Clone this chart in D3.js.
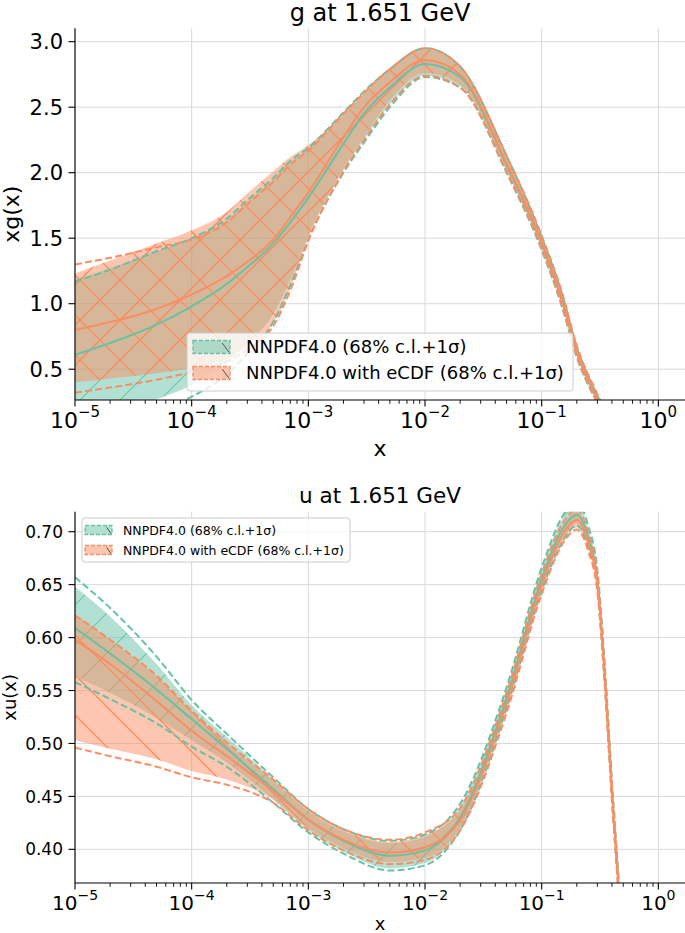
<!DOCTYPE html>
<html>
<head>
<meta charset="utf-8">
<script src="https://cdn.jsdelivr.net/npm/d3@7"></script>
<style>
  body { margin: 0; background: #fff; }
  text { font-family: "DejaVu Sans", sans-serif; fill: #000; }
</style>
</head>
<body>
<svg id="chart" width="685" height="933"></svg>
<script>
// ---- data: g at 1.651 GeV ----
var gX = [1e-5, 2e-5, 5e-5, 1e-4, 2e-4, 3e-4, 5e-4, 7e-4, 1e-3, 2e-3, 3e-3, 5e-3, 1e-2, 2e-2, 5e-2, 0.1, 0.15, 0.2, 0.3, 0.4];
var gNnpdfCentral = [0.61, 0.70, 0.84, 0.98, 1.15, 1.28, 1.46, 1.62, 1.81, 2.22, 2.45, 2.65, 2.83, 2.73, 2.06, 1.46, 1.02, 0.63, 0.27, 0.05];
var gNnpdfLo68    = [0.02, 0.12, 0.27, 0.38, 0.55, 0.70, 0.92, 1.18, 1.52, 2.02, 2.25, 2.52, 2.74, 2.66, 2.01, 1.42, 0.98, 0.60, 0.25, 0.03];
var gNnpdfHi68    = [1.18, 1.27, 1.40, 1.50, 1.64, 1.78, 1.95, 2.08, 2.18, 2.44, 2.60, 2.78, 2.94, 2.80, 2.12, 1.50, 1.06, 0.66, 0.29, 0.07];
var gNnpdfLoSig   = [-0.1, 0.02, 0.17, 0.29, 0.46, 0.62, 0.86, 1.14, 1.49, 2.00, 2.23, 2.50, 2.73, 2.65, 2.00, 1.41, 0.97, 0.59, 0.24, 0.02];
var gNnpdfHiSig   = [1.17, 1.26, 1.40, 1.50, 1.65, 1.79, 1.96, 2.09, 2.19, 2.46, 2.62, 2.79, 2.95, 2.81, 2.13, 1.51, 1.07, 0.67, 0.30, 0.08];
var gEcdfCentral  = [0.80, 0.86, 0.96, 1.07, 1.21, 1.32, 1.49, 1.66, 1.85, 2.27, 2.50, 2.69, 2.86, 2.75, 2.07, 1.47, 1.03, 0.64, 0.28, 0.05];
var gEcdfLo68     = [0.40, 0.43, 0.47, 0.51, 0.58, 0.68, 0.85, 1.12, 1.50, 2.03, 2.27, 2.55, 2.76, 2.67, 2.02, 1.43, 0.99, 0.61, 0.25, 0.03];
var gEcdfHi68     = [1.23, 1.33, 1.46, 1.56, 1.70, 1.84, 2.01, 2.12, 2.21, 2.46, 2.62, 2.80, 2.95, 2.81, 2.12, 1.51, 1.07, 0.67, 0.30, 0.07];
var gEcdfLoSig    = [0.32, 0.36, 0.42, 0.48, 0.56, 0.65, 0.83, 1.10, 1.48, 2.01, 2.25, 2.52, 2.74, 2.65, 2.01, 1.42, 0.98, 0.60, 0.24, 0.02];
var gEcdfHiSig    = [1.30, 1.35, 1.43, 1.49, 1.62, 1.76, 1.93, 2.06, 2.17, 2.45, 2.61, 2.79, 2.95, 2.81, 2.13, 1.52, 1.08, 0.68, 0.31, 0.08];

// ---- data: u at 1.651 GeV ----
var uX = [1e-5, 2e-5, 5e-5, 1e-4, 2e-4, 5e-4, 1e-3, 2e-3, 5e-3, 1e-2, 2e-2, 5e-2, 0.1, 0.15, 0.2, 0.25, 0.3, 0.35, 0.4, 0.45, 0.5];
var uNnpdfCentral = [0.609, 0.585, 0.551, 0.523, 0.495, 0.457, 0.428, 0.408, 0.394, 0.399, 0.430, 0.543, 0.655, 0.702, 0.716, 0.695, 0.655, 0.560, 0.456, 0.375, 0.300];
var uNnpdfLo68    = [0.563, 0.548, 0.524, 0.503, 0.482, 0.447, 0.418, 0.398, 0.382, 0.387, 0.420, 0.535, 0.646, 0.692, 0.708, 0.687, 0.648, 0.553, 0.450, 0.370, 0.296];
var uNnpdfHi68    = [0.648, 0.620, 0.575, 0.536, 0.506, 0.466, 0.436, 0.417, 0.406, 0.412, 0.441, 0.551, 0.664, 0.712, 0.726, 0.704, 0.662, 0.567, 0.462, 0.380, 0.304];
var uNnpdfLoSig   = [0.558, 0.542, 0.519, 0.497, 0.478, 0.444, 0.416, 0.396, 0.380, 0.385, 0.418, 0.533, 0.644, 0.690, 0.706, 0.685, 0.646, 0.551, 0.448, 0.368, 0.294];
var uNnpdfHiSig   = [0.657, 0.628, 0.582, 0.541, 0.509, 0.468, 0.438, 0.419, 0.408, 0.414, 0.443, 0.553, 0.666, 0.714, 0.728, 0.706, 0.664, 0.569, 0.464, 0.382, 0.306];
var uEcdfCentral  = [0.598, 0.575, 0.540, 0.512, 0.488, 0.455, 0.428, 0.409, 0.397, 0.402, 0.428, 0.538, 0.650, 0.697, 0.711, 0.690, 0.651, 0.557, 0.454, 0.374, 0.300];
var uEcdfLo68     = [0.503, 0.495, 0.485, 0.474, 0.466, 0.447, 0.420, 0.401, 0.388, 0.392, 0.420, 0.531, 0.643, 0.690, 0.704, 0.684, 0.645, 0.551, 0.449, 0.369, 0.296];
var uEcdfHi68     = [0.622, 0.598, 0.563, 0.530, 0.500, 0.465, 0.437, 0.418, 0.407, 0.414, 0.437, 0.546, 0.658, 0.705, 0.719, 0.697, 0.657, 0.563, 0.459, 0.378, 0.304];
var uEcdfLoSig    = [0.496, 0.488, 0.478, 0.468, 0.461, 0.444, 0.418, 0.399, 0.386, 0.390, 0.418, 0.529, 0.641, 0.688, 0.702, 0.682, 0.643, 0.549, 0.447, 0.367, 0.294];
var uEcdfHiSig    = [0.621, 0.598, 0.564, 0.531, 0.501, 0.466, 0.438, 0.419, 0.409, 0.416, 0.439, 0.548, 0.660, 0.707, 0.721, 0.699, 0.659, 0.565, 0.461, 0.380, 0.306];

// ---- ticks / labels ----
var xMajor = [1e-5, 1e-4, 1e-3, 1e-2, 1e-1, 1];
var xExp = ["\u22125", "\u22124", "\u22123", "\u22122", "\u22121", "0"];
var gTicks = [0.5, 1.0, 1.5, 2.0, 2.5, 3.0];
var uTicks = [0.40, 0.45, 0.50, 0.55, 0.60, 0.65, 0.70];
var legendLabels = ["NNPDF4.0 (68% c.l.+1\u03c3)", "NNPDF4.0 with eCDF (68% c.l.+1\u03c3)"];

var green = "#66c2a5", orange = "#fc8d62";
var svg = d3.select("#chart");
var defs = svg.append("defs");

// hatch patterns
var fwd = "M-10,10L10,-10M0,40L40,0M30,50L50,30";
var back = "M0,0L40,40M-10,30L10,50M30,-10L50,10";
function hatch(id, color, d, w, op) {
  defs.append("pattern")
      .attr("id", id)
      .attr("patternUnits", "userSpaceOnUse")
      .attr("width", 40).attr("height", 40)
    .append("path")
      .attr("d", d)
      .attr("fill", "none")
      .attr("stroke", color)
      .attr("stroke-width", w)
      .attr("stroke-opacity", op);
}
hatch("hg", green, fwd, 1.1, 0.9);
hatch("hox", orange, fwd + back, 1.4, 1);
hatch("hob", orange, back, 1.4, 1);

var minorTicks = [];
[-5, -4, -3, -2, -1, 0].forEach(function(e) {
  for (var k = 2; k <= 9; k++) {
    var v = k * Math.pow(10, e);
    if (v < 1.69) minorTicks.push(v);
  }
});

function panel(o) {
  var x = d3.scaleLog().domain([1e-5, 1.692]).range([75, 685]);
  var y = d3.scaleLinear().domain(o.yDomain).range([o.bottom, o.top]);
  var g = svg.append("g");
  var clipId = "clip" + o.id;
  defs.append("clipPath").attr("id", clipId)
    .append("rect").attr("x", 75).attr("y", o.top)
    .attr("width", 610).attr("height", o.bottom - o.top);

  // grid
  g.selectAll(".vgrid").data(xMajor).enter().append("line")
    .attr("x1", function(d) { return x(d); }).attr("x2", function(d) { return x(d); })
    .attr("y1", o.top).attr("y2", o.bottom)
    .attr("stroke", "#d9d9d9").attr("stroke-width", 1);
  g.selectAll(".hgrid").data(o.yTicks).enter().append("line")
    .attr("x1", 75).attr("x2", 685)
    .attr("y1", function(d) { return y(d); }).attr("y2", function(d) { return y(d); })
    .attr("stroke", "#d9d9d9").attr("stroke-width", 1);

  var plot = g.append("g").attr("clip-path", "url(#" + clipId + ")");
  var line = d3.line().curve(d3.curveMonotoneX);
  var area = d3.area().curve(d3.curveMonotoneX);

  o.series.forEach(function(s) {
    var bandPts = o.xs.map(function(v, i) { return [x(v), y(s.lo[i]), y(s.hi[i])]; });
    var ar = area.x(function(d) { return d[0]; }).y0(function(d) { return d[1]; }).y1(function(d) { return d[2]; });
    plot.append("path").attr("d", ar(bandPts))
      .attr("fill", s.color).attr("fill-opacity", 0.5);
    plot.append("path").attr("d", ar(bandPts))
      .attr("fill", "url(#" + s.hatch + ")");
  });
  o.series.forEach(function(s) {
    [s.slo, s.shi].forEach(function(arr) {
      plot.append("path")
        .attr("d", line(o.xs.map(function(v, i) { return [x(v), y(arr[i])]; })))
        .attr("fill", "none").attr("stroke", s.color)
        .attr("stroke-width", 2).attr("stroke-dasharray", "7,3.2");
    });
    plot.append("path")
      .attr("d", line(o.xs.map(function(v, i) { return [x(v), y(s.c[i])]; })))
      .attr("fill", "none").attr("stroke", s.color).attr("stroke-width", 2);
  });

  // spines
  g.append("line").attr("x1", 75).attr("x2", 75).attr("y1", o.top).attr("y2", o.bottom)
    .attr("stroke", "#000").attr("stroke-width", 1.1);
  g.append("line").attr("x1", 75).attr("x2", 685).attr("y1", o.bottom).attr("y2", o.bottom)
    .attr("stroke", "#000").attr("stroke-width", 1.1);

  // x ticks
  g.selectAll(".xmaj").data(xMajor).enter().append("line")
    .attr("x1", function(d) { return x(d); }).attr("x2", function(d) { return x(d); })
    .attr("y1", o.bottom).attr("y2", o.bottom + 6.5)
    .attr("stroke", "#000").attr("stroke-width", 1.1);
  g.selectAll(".xmin").data(minorTicks).enter().append("line")
    .attr("x1", function(d) { return x(d); }).attr("x2", function(d) { return x(d); })
    .attr("y1", o.bottom).attr("y2", o.bottom + 3.8)
    .attr("stroke", "#000").attr("stroke-width", 0.9);
  xMajor.forEach(function(d, i) {
    var t = g.append("text")
      .attr("x", x(d)).attr("y", o.bottom + o.xLabBase)
      .attr("text-anchor", "middle")
      .style("font-size", o.xFont + "px");
    t.append("tspan").text("10");
    t.append("tspan").attr("dy", -o.supRise).style("font-size", o.supFont + "px").text(xExp[i]);
  });

  // y ticks
  g.selectAll(".ymaj").data(o.yTicks).enter().append("line")
    .attr("x1", 75 - 6.5).attr("x2", 75)
    .attr("y1", function(d) { return y(d); }).attr("y2", function(d) { return y(d); })
    .attr("stroke", "#000").attr("stroke-width", 1.1);
  g.selectAll(".ylab").data(o.yTicks).enter().append("text")
    .attr("x", 63).attr("y", function(d) { return y(d); })
    .attr("dy", "0.36em").attr("text-anchor", "end")
    .style("font-size", o.yFont + "px")
    .text(function(d) { return d3.format(o.yFmt)(d); });

  // titles
  g.append("text").attr("x", 380).attr("y", o.titleY)
    .attr("text-anchor", "middle").style("font-size", o.titleFont + "px").text(o.title);
  g.append("text").attr("x", 380).attr("y", o.xTitleY)
    .attr("text-anchor", "middle").style("font-size", o.labFont + "px").text("x");
  g.append("text")
    .attr("transform", "translate(" + o.yTitleX + "," + ((o.top + o.bottom) / 2) + ") rotate(-90)")
    .attr("text-anchor", "middle").style("font-size", o.labFont + "px").text(o.ylabel);

  // legend
  var L = o.legend;
  var lg = g.append("g");
  lg.append("rect").attr("x", L.x).attr("y", L.y).attr("width", L.w).attr("height", L.h)
    .attr("rx", 3).attr("fill", "#fff").attr("fill-opacity", 0.8)
    .attr("stroke", "#cccccc").attr("stroke-width", 1);
  o.series.forEach(function(s, i) {
    var cy = L.rows[i];
    lg.append("rect").attr("x", L.px).attr("y", cy - L.ph / 2).attr("width", L.pw).attr("height", L.ph)
      .attr("fill", s.color).attr("fill-opacity", 0.5)
      .attr("stroke", s.color).attr("stroke-width", 1.4).attr("stroke-dasharray", "4,2");
    lg.append("line")
      .attr("x1", L.px + L.pw - L.ph * 0.6).attr("y1", cy - L.ph * 0.3)
      .attr("x2", L.px + L.pw - 1).attr("y2", cy + L.ph * 0.4)
      .attr("stroke", "#555").attr("stroke-width", 1);
    lg.append("text").attr("x", L.tx).attr("y", cy).attr("dy", "0.36em")
      .style("font-size", L.font + "px").text(legendLabels[i]);
  });
}

panel({
  id: "g", top: 28.3, bottom: 400, yDomain: [0.265, 3.102], yTicks: gTicks, yFmt: ".1f",
  xs: gX, title: "g at 1.651 GeV", titleY: 21, titleFont: 24, ylabel: "xg(x)",
  xFont: 22, supFont: 15, supRise: 11, xLabBase: 28, yFont: 21, labFont: 22,
  xTitleY: 456, yTitleX: 19,
  series: [
    {c: gNnpdfCentral, lo: gNnpdfLo68, hi: gNnpdfHi68, slo: gNnpdfLoSig, shi: gNnpdfHiSig, color: green, hatch: "hg"},
    {c: gEcdfCentral, lo: gEcdfLo68, hi: gEcdfHi68, slo: gEcdfLoSig, shi: gEcdfHiSig, color: orange, hatch: "hox"}
  ],
  legend: {x: 187, y: 333, w: 386, h: 58, rows: [347, 373], px: 193, pw: 37, ph: 13, tx: 246, font: 18}
});

panel({
  id: "u", top: 511.7, bottom: 883, yDomain: [0.3682, 0.7189], yTicks: uTicks, yFmt: ".2f",
  xs: uX, title: "u at 1.651 GeV", titleY: 503, titleFont: 21.5, ylabel: "xu(x)",
  xFont: 20, supFont: 14, supRise: 10, xLabBase: 27, yFont: 17, labFont: 18,
  xTitleY: 930, yTitleX: 16,
  series: [
    {c: uNnpdfCentral, lo: uNnpdfLo68, hi: uNnpdfHi68, slo: uNnpdfLoSig, shi: uNnpdfHiSig, color: green, hatch: "hg"},
    {c: uEcdfCentral, lo: uEcdfLo68, hi: uEcdfHi68, slo: uEcdfLoSig, shi: uEcdfHiSig, color: orange, hatch: "hob"}
  ],
  legend: {x: 82, y: 518, w: 268, h: 44, rows: [530, 550], px: 85, pw: 27, ph: 9, tx: 123, font: 12.5}
});
</script>
</body>
</html>
